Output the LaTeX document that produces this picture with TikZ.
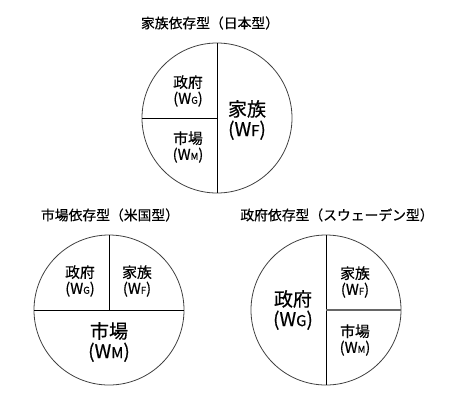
\documentclass[tikz,border=0pt]{standalone}
\usepackage{fontspec}
\setmainfont{Noto Sans CJK JP}[FakeBold=0.5]
\usetikzlibrary{positioning}
\newcommand{\Ws}[1]{(W{\fontsize{9.5}{9.5}\selectfont #1})}
\newcommand{\Wb}[1]{(W{\fontsize{15}{15}\selectfont #1})}
\begin{document}
\begin{tikzpicture}[x=1pt,y=-1pt,
    rim/.style={draw=black!75,line width=0.8pt},
    cut/.style={draw=black,line width=0.8pt},
    heading/.style={font=\fontsize{13.8}{15}\selectfont,inner sep=0pt},
    part/.style={align=center,font=\fontsize{14.8}{16}\selectfont,inner sep=0pt},
    share/.style={align=center,font=\fontsize{19}{20}\selectfont,inner sep=0pt}]
  \useasboundingbox (0,0) rectangle (460,400);
  % Japan: family dependent
  \node[heading] (jpTitle) at (210,23) {家族依存型（日本型）};
  \begin{scope}[shift={(217,118)}]
    \draw[rim] (0,0) circle (75);
    \draw[cut] (0,-75) -- (0,75);
    \draw[cut] (-75,0) -- (0,0);
    \node[part] (jpG) at (-29,-27) {政府\\\Ws{G}};
    \node[part] (jpM) at (-29,29) {市場\\\Ws{M}};
    \node[share] (jpF) at (30,2) {家族\\\Wb{F}};
  \end{scope}
  % USA: market dependent
  \node[heading] (usTitle) at (110,215) {市場依存型（米国型）};
  \begin{scope}[shift={(109,310)}]
    \draw[rim] (0,0) circle (75);
    \draw[cut] (0,-75) -- (0,0);
    \draw[cut] (-75,0) -- (75,0);
    \node[part] (usG) at (-29,-29) {政府\\\Ws{G}};
    \node[part] (usF) at (28,-29) {家族\\\Ws{F}};
    \node[share] (usM) at (0,32) {市場\\\Wb{M}};
  \end{scope}
  % Sweden: state dependent
  \node[heading] (seTitle) at (337,215) {政府依存型（スウェーデン型）};
  \begin{scope}[shift={(326,310)}]
    \draw[rim] (0,0) circle (75);
    \draw[cut] (0,-75) -- (0,75);
    \draw[cut,draw=black!60,line width=1.4pt] (0,0) -- (75,0);
    \node[share] (seG) at (-33,0) {政府\\\Wb{G}};
    \node[part] (seF) at (29,-28) {家族\\\Ws{F}};
    \node[part] (seM) at (29,30) {市場\\\Ws{M}};
  \end{scope}
\end{tikzpicture}
\end{document}
